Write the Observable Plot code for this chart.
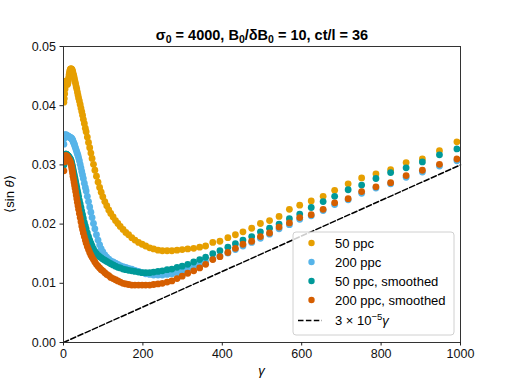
<!DOCTYPE html>
<html><head><meta charset="utf-8">
<script src="https://cdn.jsdelivr.net/npm/d3@7"></script>
<script src="https://cdn.jsdelivr.net/npm/@observablehq/plot@0.6"></script>
<style>body{margin:0;background:#fff}#chart{width:512px;height:384px}</style>
</head><body><div id="chart"></div>
<script>
const gamma = [1,2,3,4,5,6,7,8,9,10,11,12,13,14,15,16,17,18,19,20,
21,22,23,24,25.3,26.5,27.7,29,30.5,32,33.5,35,36.5,38,40,42,44,46,48,50,
52.5,55,57,60,63,66,69,72,75.5,79,83,87,91,95,99,104,109,114,119,125,
131,137,143,150,157,164,172,180,189,198,207,217,227,238,249,261,273,286,
299,313,328,343,358,376,394,414,433,452,474,496,519,543,569,595,624,654,683,717,751,787,824,863,904,947,991];

const ppc50 = [0.0406,0.0412,0.0420,0.0428,0.0435,0.0440,0.0442,0.0440,0.0437,0.0436,0.0438,0.0442,0.0447,0.0452,0.0456,0.0459,0.0461,0.0462,0.0462,0.0462,
0.0461,0.0460,0.0458,0.0455,0.0452,0.0449,0.0445,0.0441,0.0437,0.0432,0.0428,0.0423,0.0418,0.0413,0.0408,0.0402,0.0396,0.0390,0.0384,0.0377,
0.0370,0.0362,0.0356,0.0347,0.0338,0.0329,0.0320,0.0311,0.0301,0.0291,0.0281,0.0271,0.0262,0.0254,0.0246,0.0238,0.0231,0.0224,0.0218,0.0212,
0.0206,0.0201,0.0196,0.0191,0.0186,0.0182,0.0177,0.0173,0.0169,0.0166,0.0163,0.0160,0.0158,0.0156,0.0155,0.0155,0.0155,0.0156,
0.0157,0.0158,0.0159,0.0161,0.0163,0.0169,0.0171,0.0177,0.0182,0.0187,0.0193,0.0201,0.0206,0.0213,0.0225,0.0232,0.0239,0.0247,0.0257,0.0268,0.0278,0.0285,0.0292,0.0304,0.0310,0.0324,0.0339];

const ppc200 = [0.0335,0.0345,0.0350,0.0351,0.0350,0.0351,0.0350,0.0349,0.0350,0.0349,0.0348,0.0348,0.0348,0.0347,0.0347,0.0347,0.0346,0.0346,0.0345,0.0345,
0.0344,0.0343,0.0342,0.0340,0.0338,0.0336,0.0334,0.0331,0.0328,0.0325,0.0322,0.0319,0.0316,0.0312,0.0307,0.0301,0.0295,0.0289,0.0283,0.0277,
0.0269,0.0262,0.0256,0.0247,0.0238,0.0229,0.0220,0.0211,0.0201,0.0192,0.0182,0.0173,0.0165,0.0158,0.0153,0.0148,0.0144,0.0141,0.0138,0.0136,
0.0134,0.0132,0.0130,0.0128,0.0127,0.0125,0.0124,0.0122,0.0120,0.0118,0.0116,0.0115,0.0114,0.0114,0.0114,0.0115,0.0116,0.0118,
0.0120,0.0124,0.0128,0.0131,0.0136,0.0141,0.0146,0.0151,0.0157,0.0163,0.0169,0.0176,0.0183,0.0192,0.0199,0.0208,0.0214,0.0223,0.0233,0.0241,0.0252,0.0261,0.0268,0.0279,0.0288,0.0298,0.0307];

const ppc50smooth = [0.0300,0.0310,0.0315,0.0317,0.0318,0.0318,0.0318,0.0317,0.0317,0.0316,0.0315,0.0315,0.0314,0.0313,0.0312,0.0311,0.0310,0.0309,0.0307,0.0305,
0.0302,0.0299,0.0296,0.0293,0.0289,0.0285,0.0281,0.0277,0.0272,0.0267,0.0262,0.0257,0.0252,0.0247,0.0240,0.0234,0.0228,0.0222,0.0216,0.0210,
0.0203,0.0197,0.0192,0.0185,0.0179,0.0173,0.0168,0.0163,0.0158,0.0154,0.0150,0.0147,0.0145,0.0143,0.0141,0.0139,0.0137,0.0135,0.0133,0.0131,
0.0129,0.0127,0.0126,0.0124,0.0123,0.0122,0.0121,0.0120,0.0119,0.0118,0.0118,0.0118,0.0119,0.0120,0.0121,0.0123,0.0124,0.0127,
0.0129,0.0132,0.0136,0.0140,0.0144,0.0150,0.0155,0.0161,0.0167,0.0173,0.0179,0.0187,0.0193,0.0200,0.0209,0.0217,0.0228,0.0238,0.0247,0.0258,0.0266,0.0277,0.0287,0.0295,0.0305,0.0317,0.0327];

const ppc200smooth = [0.0290,0.0305,0.0313,0.0315,0.0315,0.0315,0.0315,0.0315,0.0314,0.0313,0.0312,0.0311,0.0310,0.0309,0.0308,0.0306,0.0305,0.0303,0.0301,0.0298,
0.0294,0.0290,0.0286,0.0281,0.0276,0.0271,0.0266,0.0261,0.0255,0.0249,0.0243,0.0237,0.0231,0.0225,0.0218,0.0211,0.0204,0.0197,0.0191,0.0185,
0.0179,0.0173,0.0168,0.0162,0.0157,0.0152,0.0148,0.0144,0.0140,0.0136,0.0132,0.0129,0.0126,0.0123,0.0121,0.0118,0.0115,0.0113,0.0110,0.0108,
0.0106,0.0104,0.0102,0.0100,0.0099,0.0098,0.0097,0.0097,0.0097,0.0097,0.0097,0.0097,0.0098,0.0099,0.0100,0.0102,0.0104,0.0108,
0.0112,0.0117,0.0121,0.0126,0.0132,0.0140,0.0145,0.0152,0.0159,0.0166,0.0171,0.0179,0.0185,0.0195,0.0202,0.0211,0.0216,0.0225,0.0236,0.0243,0.0255,0.0263,0.0270,0.0282,0.0291,0.0301,0.0310];

const seriesNames = ["50 ppc", "200 ppc", "50 ppc, smoothed", "200 ppc, smoothed"];
const seriesColors = ["#E69F00", "#56B4E9", "#009999", "#D55E00"];
const xTicks = [0, 200, 400, 600, 800, 1000];
const yTicks = [0, 0.01, 0.02, 0.03, 0.04, 0.05];
const lineGamma = [0, 1000];
const lineSlope = 3e-5;

const rows = [];
[ppc50, ppc200, ppc50smooth, ppc200smooth].forEach((arr, k) =>
  arr.forEach((v, i) => rows.push({g: gamma[i], v, s: seriesNames[k]})));

const FONT = "'Liberation Sans', Arial, Helvetica, sans-serif";

const plot = Plot.plot({
  width: 512, height: 384,
  marginTop: 46, marginBottom: 42, marginLeft: 63, marginRight: 52,
  style: {fontFamily: FONT, fontSize: "12.5px", background: "white", color: "#222"},
  x: {domain: [0, 1000]},
  y: {domain: [0, 0.05]},
  color: {domain: seriesNames, range: seriesColors},
  marks: [
    Plot.dot(rows, {x: "g", y: "v", fill: "s", r: 3.4, clip: true}),
    Plot.line(lineGamma, {x: d => d, y: d => d * lineSlope, stroke: "black", strokeWidth: 1.5, strokeDasharray: "5.5,2.4"}),
    Plot.frame({stroke: "#333", strokeWidth: 1}),
    Plot.axisX({ticks: xTicks, tickSize: 3.5, tickPadding: 3, label: null, tickFormat: d => String(d), fill: "#111"}),
    Plot.axisY({ticks: yTicks, tickSize: 3.5, tickPadding: 4, label: null, tickFormat: d => d.toFixed(2), fill: "#111"})
  ]
});

const svg = d3.select(plot);

// Title
const title = svg.append("text").attr("x", 262).attr("y", 40).attr("text-anchor", "middle")
  .attr("font-family", FONT).attr("font-weight", "bold").attr("font-size", 14.5).attr("fill", "#000");
const parts = [["σ", 0], ["0", 1], [" = 4000, B", -1], ["0", 1], ["/δB", -1], ["0", 1], [" = 10, ct/l = 36", -1]];
parts.forEach(([t, s]) => {
  const ts = title.append("tspan").text(t);
  if (s === 1) ts.attr("dy", 3).attr("font-size", 10.5);
  else if (s === -1) ts.attr("dy", -3);
});

// Axis labels
const yl = svg.append("text").attr("transform", "translate(14,194) rotate(-90)").attr("text-anchor", "middle")
  .attr("font-family", FONT).attr("font-size", 13).attr("fill", "#000");
yl.append("tspan").text("⟨sin ");
yl.append("tspan").attr("font-style", "italic").text("θ");
yl.append("tspan").text("⟩");

svg.append("text").attr("x", 261.5).attr("y", 375).attr("text-anchor", "middle")
  .attr("font-family", FONT).attr("font-size", 13).attr("font-style", "italic").attr("fill", "#000").text("γ");

// Legend
const lg = svg.append("g").attr("font-family", FONT).attr("font-size", 13).attr("text-anchor", "start");
lg.append("rect").attr("x", 293).attr("y", 232).attr("width", 161).attr("height", 103).attr("rx", 3)
  .attr("fill", "white").attr("fill-opacity", 0.8).attr("stroke", "#d0d0d0");
const rowY = [243, 262, 281, 300, 320.5];
seriesNames.forEach((n, i) => {
  lg.append("circle").attr("cx", 311.5).attr("cy", rowY[i]).attr("r", 3.2).attr("fill", seriesColors[i]);
  lg.append("text").attr("x", 335).attr("y", rowY[i]).attr("dy", "0.35em").attr("text-anchor", "start").attr("fill", "#000").text(n);
});
lg.append("line").attr("x1", 298).attr("x2", 322).attr("y1", rowY[4]).attr("y2", rowY[4])
  .attr("stroke", "black").attr("stroke-width", 1.5).attr("stroke-dasharray", "5.5,2.4");
const lt = lg.append("text").attr("x", 335).attr("y", rowY[4]).attr("dy", "0.35em").attr("text-anchor", "start").attr("fill", "#000");
lt.append("tspan").text("3 × 10");
lt.append("tspan").attr("dy", -5).attr("font-size", 9.5).text("−5");
lt.append("tspan").attr("dy", 5).attr("font-style", "italic").text("γ");

document.getElementById("chart").appendChild(plot);
</script>
</body></html>
